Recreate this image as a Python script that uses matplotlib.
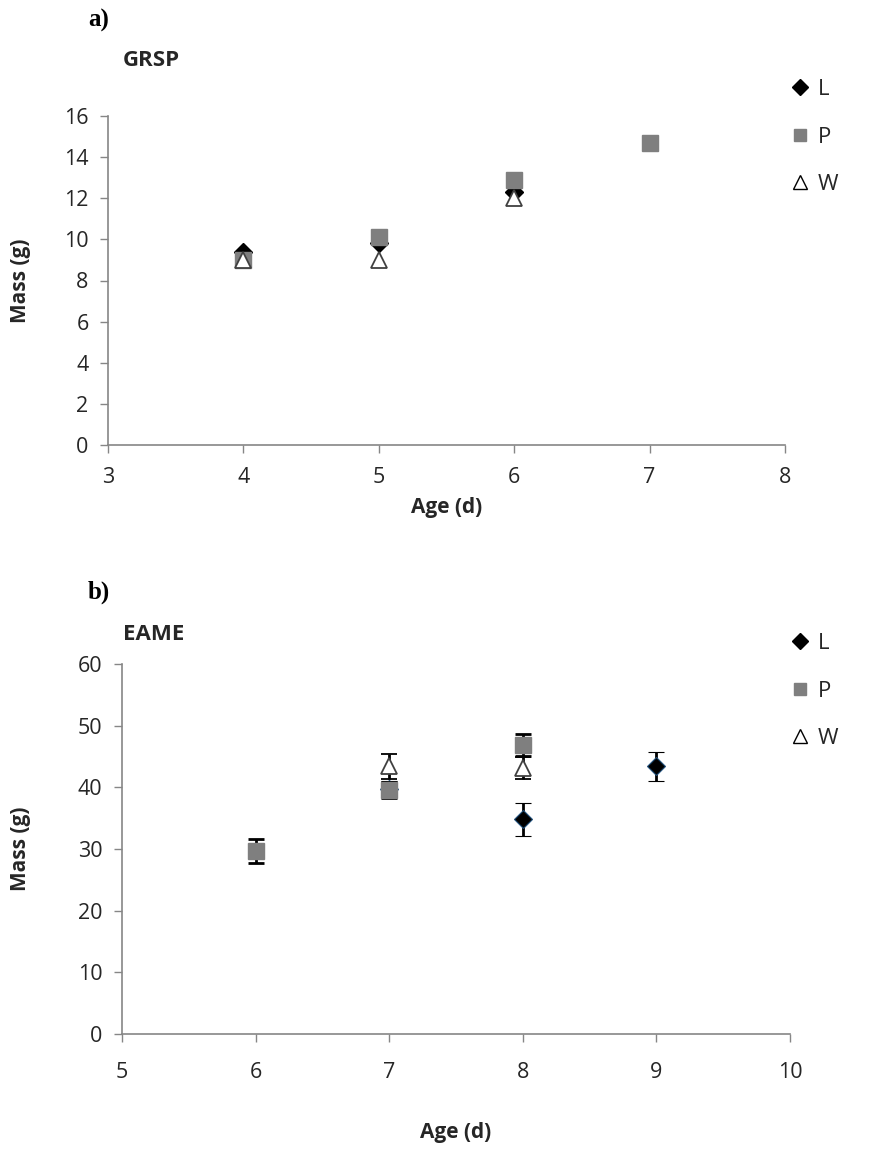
import matplotlib
matplotlib.use("Agg")
import matplotlib.pyplot as plt
from matplotlib.lines import Line2D

# ---- data ----
grsp_age_L = [4, 5, 6]
grsp_mass_L = [9.4, 9.8, 12.3]
grsp_age_P = [4, 5, 6, 7]
grsp_mass_P = [9.0, 10.1, 12.9, 14.7]
grsp_age_W = [4, 5, 6]
grsp_mass_W = [9.0, 9.0, 12.0]

eame_age_L = [7, 8, 9]
eame_mass_L = [39.8, 34.8, 43.4]
eame_err_L = [1.2, 2.7, 2.4]
eame_age_P = [6, 7, 8]
eame_mass_P = [29.7, 39.6, 46.9]
eame_err_P = [1.9, 1.3, 1.8]
eame_age_W = [7, 8]
eame_mass_W = [43.4, 43.2]
eame_err_W = [2.0, 1.8]

yticks_a = [0, 2, 4, 6, 8, 10, 12, 14, 16]
xticks_a = [3, 4, 5, 6, 7, 8]
yticks_b = [0, 10, 20, 30, 40, 50, 60]
xticks_b = [5, 6, 7, 8, 9, 10]

FONT = "Open Sans"
plt.rcParams['font.family'] = [FONT, 'DejaVu Sans']
AXC = "#868686"
TXT = "#262626"
GRAY = "#7f7f7f"

W, H = 882, 1149
fig = plt.figure(figsize=(W/100, H/100), dpi=100)

def box(l, t, r, b):
    return [l/W, 1-b/H, (r-l)/W, (b-t)/H]

def style(ax, xt, yt, xlpad, xpad, ylx):
    for s in ['top', 'right']:
        ax.spines[s].set_visible(False)
    for s in ['left', 'bottom']:
        ax.spines[s].set_color(AXC)
        ax.spines[s].set_linewidth(1.2)
    ax.set_xticks(xt)
    ax.set_yticks(yt)
    ax.set_xlim(xt[0], xt[-1])
    ax.set_ylim(yt[0], yt[-1])
    ax.tick_params(axis='both', colors=AXC, length=6, width=1.0, direction='out',
                   labelsize=15.5, labelcolor=TXT, pad=8)
    ax.tick_params(axis='x', pad=xpad)
    ax.set_xlabel("Age (d)", fontsize=15, fontweight='bold', color=TXT, labelpad=xlpad)
    ax.set_ylabel("Mass (g)", fontsize=15, fontweight='bold', color=TXT)
    ax.yaxis.set_label_coords(ylx, 0.5)

def legend(ax, y0):
    handles = [
        Line2D([], [], ls='none', marker='D', ms=8, mfc='black', mec='black'),
        Line2D([], [], ls='none', marker='s', ms=9, mfc=GRAY, mec=GRAY),
        Line2D([], [], ls='none', marker='^', ms=10, mfc='white', mec='black', mew=1.0),
    ]
    ax.legend(handles, ['L', 'P', 'W'], loc='upper left', bbox_to_anchor=(782/W, 1-y0/H),
              bbox_transform=fig.transFigure, frameon=False, fontsize=16,
              labelspacing=1.2, handlelength=0.8, handletextpad=0.4, borderaxespad=0,
              labelcolor=TXT)

# ---- panel a ----
ax1 = fig.add_axes(box(108, 116, 785, 445))
style(ax1, xticks_a, yticks_a, 6, 10, (31-108)/677)
ax1.plot(grsp_age_L, grsp_mass_L, ls='none', marker='D', ms=9, mfc='black', mec='black', zorder=3, clip_on=False)
ax1.plot(grsp_age_P, grsp_mass_P, ls='none', marker='s', ms=11, mfc=GRAY, mec=GRAY, zorder=4, clip_on=False)
ax1.plot(grsp_age_W, grsp_mass_W, ls='none', marker='^', ms=12, mfc='white', mec='#404040', mew=1.3, zorder=5, clip_on=False)
legend(ax1, 70)
fig.text(88/W, 1-20/H, "a)", fontsize=18, fontweight='bold', family='Liberation Serif', va='center', ha='left')
fig.text(123/W, 1-60/H, "GRSP", fontsize=16, fontweight='bold', color=TXT, va='center', ha='left')

# ---- panel b ----
ax2 = fig.add_axes(box(122, 664, 790, 1034))
style(ax2, xticks_b, yticks_b, 28, 14, (31-122)/668)
ekw = dict(ls='none', ecolor='black', elinewidth=2, capsize=6, capthick=2, clip_on=False)
ax2.errorbar(eame_age_L, eame_mass_L, yerr=eame_err_L, marker='D', ms=9, mfc='black', mec='#1f4e79', mew=0.8, zorder=3, **ekw)
ax2.errorbar(eame_age_P, eame_mass_P, yerr=eame_err_P, marker='s', ms=11, mfc=GRAY, mec=GRAY, zorder=4, **ekw)
ax2.errorbar(eame_age_W, eame_mass_W, yerr=eame_err_W, marker='^', ms=12, mfc='white', mec='#404040', mew=1.3, zorder=5, **ekw)
legend(ax2, 624)
fig.text(88/W, 1-592/H, "b)", fontsize=18, fontweight='bold', family='Liberation Serif', va='center', ha='left')
fig.text(123/W, 1-634/H, "EAME", fontsize=16, fontweight='bold', color=TXT, va='center', ha='left')

fig.savefig("out.png", dpi=100)
